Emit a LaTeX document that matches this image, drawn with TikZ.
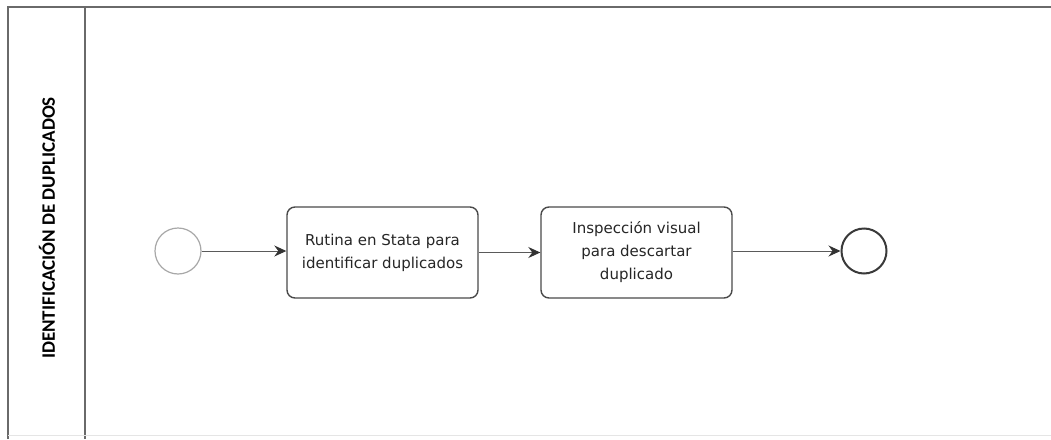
\documentclass[tikz,border=0pt]{standalone}
\usepackage{fontspec}
\setmainfont{DejaVu Sans}
\newfontfamily\lanefont{Carlito}
\usetikzlibrary{arrows.meta}
\definecolor{poolline}{HTML}{6A6A6A}
\definecolor{taskline}{HTML}{4A4A4A}
\definecolor{startline}{HTML}{A8A8A8}
\definecolor{endline}{HTML}{3A3A3A}
\definecolor{flowline}{HTML}{5A5A5A}
\definecolor{tipcol}{HTML}{333333}
\tikzset{
  pool/.style={draw=poolline, line width=1.2pt},
  task/.style={draw=taskline, line width=1.4pt, rounded corners=8pt, fill=white,
    minimum width=191pt, minimum height=91pt, align=center, inner sep=0pt,
    font=\fontsize{15}{23}\selectfont, text=black!85},
  startev/.style={circle, draw=startline, line width=1.2pt, minimum size=46pt, inner sep=0pt},
  endev/.style={circle, draw=endline, line width=2pt, minimum size=45pt, inner sep=0pt},
  flow/.style={draw=flowline, line width=1pt, -{Stealth[length=12pt, width=11pt, inset=4pt, color=tipcol]}},
}
\begin{document}
\begin{tikzpicture}[x=1pt, y=-1pt]
\useasboundingbox (0,0) rectangle (1051,439);
\fill[white] (0,0) rectangle (1051,439);
% pool
\draw[pool] (8,439) -- (8,7) -- (1051,7);
\draw[pool] (85,7) -- (85,439);
\draw[draw=black!10, line width=1pt] (8,435) -- (1051,435);
\node[rotate=90, font=\lanefont\bfseries\fontsize{19}{22}\selectfont, text=black] (lane) at (47,228) {IDENTIFICACIÓN DE DUPLICADOS};
% nodes
\node[startev] (start) at (178,251) {};
\node[task] (t1) at (382.5,252.5) {Rutina en Stata para\\identificar duplicados};
\node[task] (t2) at (636.5,252.5) {Inspección visual\\para descartar\\duplicado};
\node[endev] (end) at (864,251) {};
% flows
\draw[flow] (start) -- (start -| t1.west);
\draw[flow] (t1) -- (t2);
\draw[flow] (t2.east |- end) -- (end);
\end{tikzpicture}
\end{document}
